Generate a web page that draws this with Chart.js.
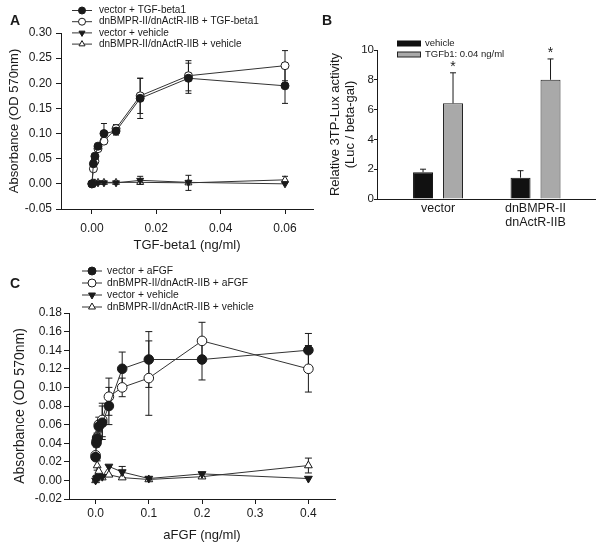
<!DOCTYPE html>
<html lang="en">
<head>
<meta charset="UTF-8">
<title>Absorbance and 3TP-Lux activity</title>
<script src="https://cdn.jsdelivr.net/npm/chart.js"></script>
<style>
  body { margin: 0; background: #fff; }
  canvas { position: absolute; }
</style>
</head>
<body>
<canvas id="chartA" width="320" height="260" style="left:0;top:0"></canvas>
<canvas id="chartB" width="300" height="260" style="left:300px;top:0"></canvas>
<canvas id="chartC" width="350" height="286" style="left:0;top:260px"></canvas>

<script>
// ---- panel A: TGF-beta1 dose response ----
const tgfDose   = [0, 0.00047, 0.00094, 0.0019, 0.00375, 0.0075, 0.015, 0.03, 0.06];
const vecTgf    = [0, 0.040, 0.055, 0.075, 0.100, 0.105, 0.170, 0.210, 0.195];
const vecTgfErr = [0, 0.003, 0.004, 0.004, 0.020, 0.008, 0.040, 0.030, 0.035];
const dnTgf     = [0, 0.030, 0.045, 0.070, 0.085, 0.110, 0.175, 0.215, 0.235];
const dnTgfErr  = [0, 0.003, 0.003, 0.004, 0.004, 0.008, 0.035, 0.030, 0.030];
const vecVehA    = [0, 0.000, 0.001, 0.002, 0.002, 0.002, 0.007, 0.003, 0.000];
const vecVehAErr = [0, 0, 0, 0, 0, 0, 0.008, 0, 0];
const dnVehA     = [0.001, 0.002, 0.002, 0.003, 0.003, 0.003, 0.003, 0.002, 0.008];
const dnVehAErr  = [0, 0, 0, 0, 0, 0, 0.003, 0.015, 0.007];
const tgfXTicks = [0, 0.02, 0.04, 0.06];
const tgfYTicks = [-0.05, 0, 0.05, 0.10, 0.15, 0.20, 0.25, 0.30];
const labelsA = ['vector + TGF-beta1', 'dnBMPR-II/dnActR-IIB + TGF-beta1',
                 'vector + vehicle', 'dnBMPR-II/dnActR-IIB + vehicle'];

// ---- panel B: 3TP-Lux reporter ----
const luxGroups     = ['vector', ['dnBMPR-II', 'dnActR-IIB']];
const luxVehicle    = [1.80, 1.43];
const luxVehicleErr = [0.20, 0.47];
const luxTgf        = [6.42, 8.00];
const luxTgfErr     = [2.05, 1.40];
const luxStars      = ['*', '*'];
const luxYTicks = [0, 2, 4, 6, 8, 10];
const labelsB = ['vehicle', 'TGFb1: 0.04 ng/ml'];

// ---- panel C: aFGF dose response ----
const fgfDose    = [0, 0.0016, 0.003, 0.006, 0.0125, 0.025, 0.05, 0.1, 0.2, 0.4];
const vecFgf     = [0.025, 0.040, 0.045, 0.058, 0.062, 0.080, 0.120, 0.130, 0.130, 0.140];
const vecFgfErr  = [0.003, 0.004, 0.005, 0.005, 0.018, 0.020, 0.018, 0.030, 0.022, 0.018];
const dnFgf      = [0.027, 0.042, 0.046, 0.060, 0.065, 0.090, 0.100, 0.110, 0.150, 0.120];
const dnFgfErr   = [0.003, 0.004, 0.005, 0.008, 0.018, 0.020, 0.010, 0.040, 0.020, 0.025];
const vecVehC    = [0, 0.002, 0.003, 0.004, 0.004, 0.015, 0.009, 0.002, 0.007, 0.002];
const vecVehCErr = [0, 0, 0, 0, 0, 0, 0.006, 0, 0, 0];
const dnVehC     = [0, 0.003, 0.016, 0.010, 0.003, 0.006, 0.003, 0.001, 0.004, 0.016];
const dnVehCErr  = [0, 0, 0.005, 0, 0, 0, 0, 0, 0, 0.008];
const fgfXTicks = [0, 0.1, 0.2, 0.3, 0.4];
const fgfYTicks = [-0.02, 0, 0.02, 0.04, 0.06, 0.08, 0.10, 0.12, 0.14, 0.16, 0.18];
const labelsC = ['vector + aFGF', 'dnBMPR-II/dnActR-IIB + aFGF',
                 'vector + vehicle', 'dnBMPR-II/dnActR-IIB + vehicle'];

const FONT = '"Liberation Sans", Arial, sans-serif';
const INK = '#1a1a1a';
Chart.defaults.font.family = FONT;
Chart.defaults.color = INK;
Chart.defaults.animation = false;

// vertical error bars with caps, drawn under the markers
const errorBars = {
  id: 'errorBars',
  beforeDatasetsDraw(chart, args, opts) {
    const ctx = chart.ctx;
    const yScale = chart.scales.y;
    ctx.save();
    ctx.strokeStyle = INK;
    ctx.lineWidth = 1;
    chart.data.datasets.forEach((ds, di) => {
      const err = ds.err || ds.errUp;
      if (!err) return;
      chart.getDatasetMeta(di).data.forEach((pt, i) => {
        const e = err[i];
        if (!e) return;
        const v = ds.data[i].y;
        const top = yScale.getPixelForValue(v + e);
        const bot = ds.err ? yScale.getPixelForValue(v - e) : pt.y;
        ctx.beginPath();
        ctx.moveTo(pt.x, top); ctx.lineTo(pt.x, bot);
        ctx.moveTo(pt.x - opts.cap, top); ctx.lineTo(pt.x + opts.cap, top);
        if (ds.err) { ctx.moveTo(pt.x - opts.cap, bot); ctx.lineTo(pt.x + opts.cap, bot); }
        ctx.stroke();
        if (ds.stars && ds.stars[i]) {
          ctx.fillStyle = INK;
          ctx.font = '14px ' + FONT;
          ctx.textAlign = 'center';
          ctx.textBaseline = 'middle';
          ctx.fillText(ds.stars[i], pt.x, top - 6);
        }
      });
    });
    ctx.restore();
  }
};

// panel letter + SigmaPlot style legend in the top left corner
const panelLegend = {
  id: 'panelLegend',
  afterDraw(chart, args, o) {
    const ctx = chart.ctx;
    ctx.save();
    ctx.fillStyle = INK;
    ctx.font = 'bold 14px ' + FONT;
    ctx.textAlign = 'left';
    ctx.textBaseline = 'alphabetic';
    ctx.fillText(o.letter, o.letterX, o.letterY);
    ctx.font = o.fontSize + 'px ' + FONT;
    ctx.textBaseline = 'middle';
    chart.data.datasets.forEach((ds, i) => {
      const y = o.top + i * o.gap;
      ctx.lineWidth = 1;
      if (o.swatch) {
        ctx.fillStyle = ds.backgroundColor;
        ctx.strokeStyle = ds.borderColor;
        ctx.fillRect(o.x0, y - 2.5, o.x1 - o.x0, 5);
        ctx.strokeRect(o.x0 + 0.5, y - 2.5, o.x1 - o.x0 - 1, 5);
      } else {
        ctx.strokeStyle = ds.borderColor;
        ctx.beginPath();
        ctx.moveTo(o.x0, y); ctx.lineTo(o.x1, y);
        ctx.stroke();
        ctx.fillStyle = ds.pointBackgroundColor;
        ctx.strokeStyle = ds.pointBorderColor;
        Chart.helpers.drawPoint(ctx, {
          pointStyle: ds.pointStyle, radius: o.radius,
          rotation: ds.pointRotation || 0, borderWidth: 1
        }, (o.x0 + o.x1) / 2, y);
      }
      ctx.fillStyle = INK;
      ctx.fillText(ds.label, o.textX, y);
    });
    ctx.restore();
  }
};

function series(label, xs, ys, err, filled, style, rot, radius) {
  return {
    label: label,
    data: xs.map((x, i) => ({ x: x, y: ys[i] })),
    err: err,
    showLine: true,
    borderColor: '#333',
    borderWidth: 1,
    pointStyle: style,
    pointRotation: rot,
    pointRadius: radius,
    pointBackgroundColor: filled ? INK : '#fff',
    pointBorderColor: INK,
    pointBorderWidth: 1
  };
}

function axis(o) {
  return {
    type: 'linear', min: o.min, max: o.max,
    afterBuildTicks: s => { s.ticks = o.ticks.map(v => ({ value: v })); },
    afterFit: s => { if (o.width) s.width = o.width; if (o.height) s.height = o.height; },
    ticks: {
      callback: v => o.fmt(v), padding: o.pad, autoSkip: false, maxRotation: 0,
      font: { size: o.tickSize }, color: INK
    },
    grid: { drawOnChartArea: false, tickLength: o.tickLen, color: INK },
    border: { color: INK },
    title: { display: true, text: o.title, font: { size: o.titleSize }, padding: o.titlePad, color: INK }
  };
}

// Panel A
new Chart(document.getElementById('chartA'), {
  type: 'scatter',
  data: {
    datasets: [
      series(labelsA[0], tgfDose, vecTgf, vecTgfErr, true, 'circle', 0, 4),
      series(labelsA[1], tgfDose, dnTgf, dnTgfErr, false, 'circle', 0, 4),
      series(labelsA[2], tgfDose, vecVehA, vecVehAErr, true, 'triangle', 180, 4),
      series(labelsA[3], tgfDose, dnVehA, dnVehAErr, false, 'triangle', 0, 4)
    ]
  },
  options: {
    responsive: false,
    layout: { padding: { left: 0, top: 33, right: 7, bottom: 0 } },
    plugins: {
      legend: { display: false }, tooltip: { enabled: false },
      errorBars: { cap: 3 },
      panelLegend: { letter: 'A', letterX: 10, letterY: 25, fontSize: 10, top: 10.5, gap: 11.2,
                     x0: 72, x1: 92, textX: 99, radius: 3.5 }
    },
    scales: {
      x: axis({ min: -0.0096, max: 0.0687, ticks: tgfXTicks, fmt: v => v.toFixed(2), pad: 7.8,
                tickSize: 12, tickLen: 5, height: 51, title: 'TGF-beta1 (ng/ml)', titleSize: 13,
                titlePad: { top: 0, bottom: 7.2 } }),
      y: axis({ min: -0.05, max: 0.30, ticks: tgfYTicks, fmt: v => v.toFixed(2), pad: 4,
                tickSize: 12, tickLen: 5, width: 61, title: 'Absorbance (OD 570nm)', titleSize: 13,
                titlePad: { top: 6.2, bottom: 0 } })
    }
  },
  plugins: [errorBars, panelLegend]
});

// Panel B
const bx = axis({ min: 0.374, max: 2.61, ticks: [1, 2], fmt: v => luxGroups[v - 1], pad: 3.1,
                  tickSize: 12.5, tickLen: 0, height: 61, title: '', titleSize: 12, titlePad: 0 });
bx.title.display = false;
bx.grid.drawTicks = false;
bx.offset = false;
bx.ticks.font.lineHeight = 1.1;
const by = axis({ min: 0, max: 10, ticks: luxYTicks, fmt: v => String(v), pad: 0,
                  tickSize: 11.5, tickLen: 3, width: 77,
                  title: ['Relative 3TP-Lux activity', '(Luc / beta-gal)'], titleSize: 13,
                  titlePad: { top: 27.5, bottom: 0 } });
by.title.font.lineHeight = 1.15;

new Chart(document.getElementById('chartB'), {
  type: 'bar',
  data: {
    datasets: [
      { label: labelsB[0], data: luxVehicle.map((v, i) => ({ x: i + 1, y: v })), errUp: luxVehicleErr,
        backgroundColor: '#111', borderColor: '#111', borderWidth: 1 },
      { label: labelsB[1], data: luxTgf.map((v, i) => ({ x: i + 1, y: v })), errUp: luxTgfErr,
        stars: luxStars, backgroundColor: '#a9a9a9', borderColor: '#222', borderWidth: 1 }
    ]
  },
  options: {
    responsive: false,
    categoryPercentage: 0.615,
    barPercentage: 0.667,
    layout: { padding: { left: 0, top: 50, right: 5, bottom: 0 } },
    plugins: {
      legend: { display: false }, tooltip: { enabled: false },
      errorBars: { cap: 3 },
      panelLegend: { letter: 'B', letterX: 22, letterY: 25, fontSize: 9.5, top: 43.5, gap: 11,
                     x0: 97, x1: 121, textX: 125, swatch: true }
    },
    scales: { x: bx, y: by }
  },
  plugins: [errorBars, panelLegend]
});

// Panel C
new Chart(document.getElementById('chartC'), {
  type: 'scatter',
  data: {
    datasets: [
      series(labelsC[0], fgfDose, vecFgf, vecFgfErr, true, 'circle', 0, 4.8),
      series(labelsC[1], fgfDose, dnFgf, dnFgfErr, false, 'circle', 0, 4.8),
      series(labelsC[2], fgfDose, vecVehC, vecVehCErr, true, 'triangle', 180, 4.5),
      series(labelsC[3], fgfDose, dnVehC, dnVehCErr, false, 'triangle', 0, 4.5)
    ]
  },
  options: {
    responsive: false,
    layout: { padding: { left: 0, top: 53, right: 15, bottom: 0 } },
    plugins: {
      legend: { display: false }, tooltip: { enabled: false },
      errorBars: { cap: 3.5 },
      panelLegend: { letter: 'C', letterX: 10, letterY: 28, fontSize: 10.3, top: 11, gap: 12,
                     x0: 82, x1: 102, textX: 107, radius: 4 }
    },
    scales: {
      x: axis({ min: -0.05, max: 0.45, ticks: fgfXTicks, fmt: v => v.toFixed(1), pad: 2.8,
                tickSize: 12, tickLen: 5, height: 47, title: 'aFGF (ng/ml)', titleSize: 13,
                titlePad: { top: 0, bottom: 3.2 } }),
      y: axis({ min: -0.02, max: 0.18, ticks: fgfYTicks, fmt: v => v.toFixed(2), pad: 2,
                tickSize: 12, tickLen: 5, width: 69, title: 'Absorbance (OD 570nm)', titleSize: 14,
                titlePad: { top: 11.6, bottom: 0 } })
    }
  },
  plugins: [errorBars, panelLegend]
});
</script>
</body>
</html>
